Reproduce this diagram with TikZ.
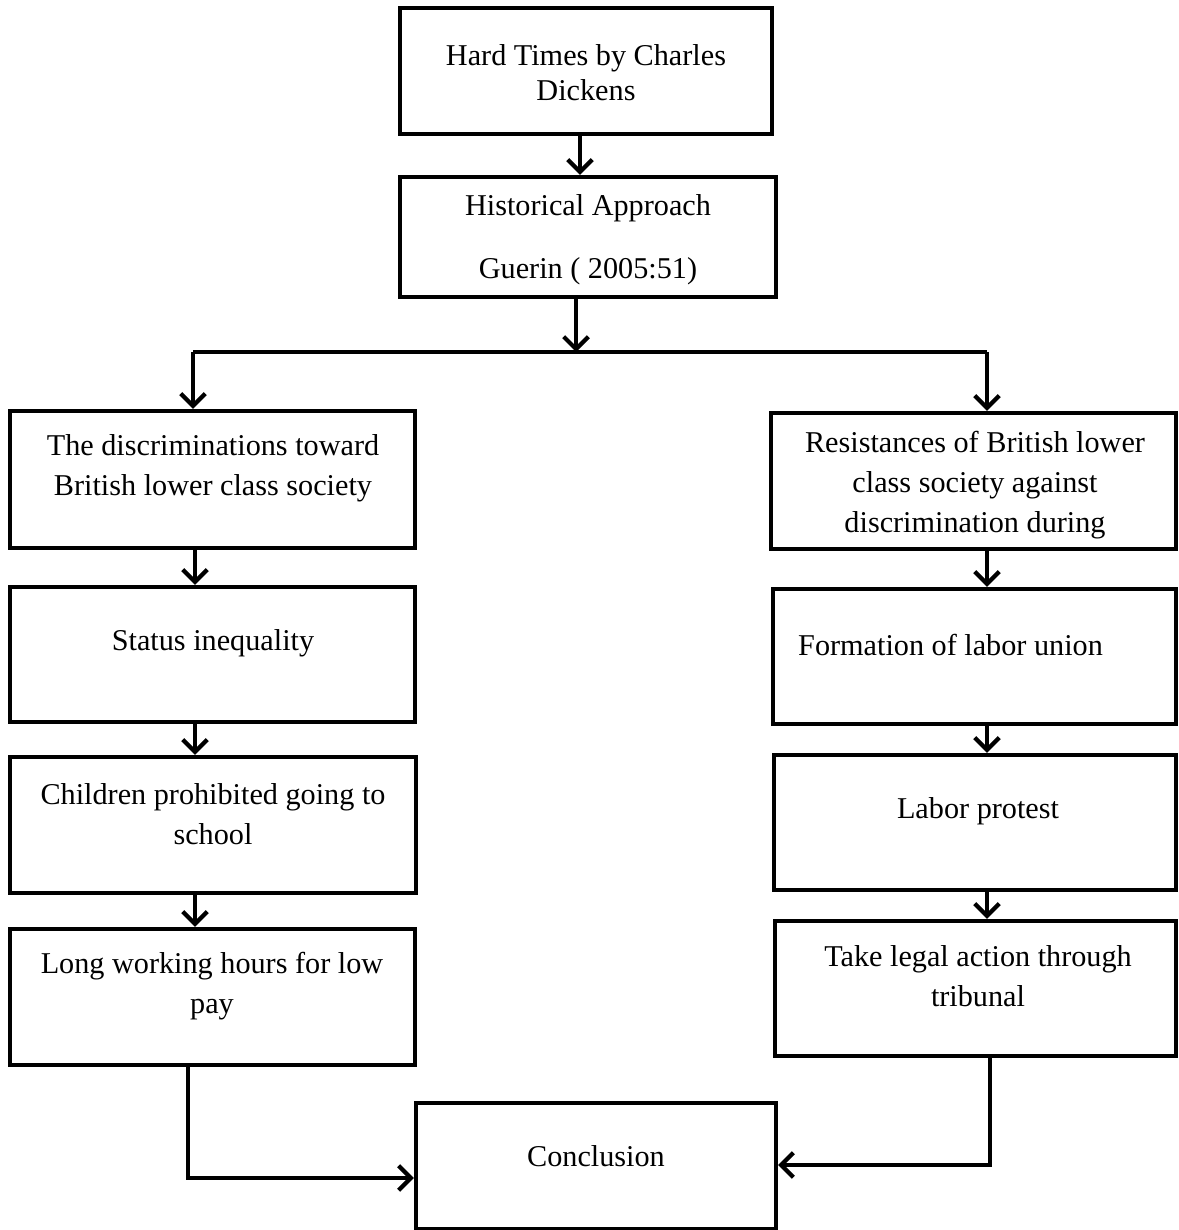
\documentclass[tikz,border=0pt]{standalone}
\usepackage{fontspec}
\setmainfont{Liberation Serif}
\usetikzlibrary{arrows.meta}
\tikzset{
  box/.style={draw, line width=2.4pt, rectangle, inner sep=0pt},
  txt/.style={align=center, font=\fontsize{17.2}{22.7}\selectfont},
  arr/.style={line width=2.4pt, -{Straight Barb[length=7pt,width=14pt]}},
  link/.style={line width=2.4pt},
}

\begin{document}
\begin{tikzpicture}[x=0.02cm, y=-0.02cm]
			%%%%% START %%%%%
			\useasboundingbox (0,0) rectangle (1179,1230);
			
			% top boxes
			\node[box, minimum width=7.44cm, minimum height=2.52cm] (hard) at (586,71) {};
			\node[txt, font=\fontsize{17.2}{20}\selectfont] (hardtxt) at (586,73) {Hard Times by Charles\\Dickens};
			
			\node[box, minimum width=7.52cm, minimum height=2.4cm] (hist) at (588,237) {};
			\node[txt] (histtxt) at (588,240) {Historical Approach\\[13pt]Guerin ( 2005:51)};
			
			% left column
			\node[box, minimum width=8.1cm, minimum height=2.74cm] (disc) at (212.5,479.5) {};
			\node[txt] (disctxt) at (213,468) {The discriminations toward\\British lower class society};
			
			\node[box, minimum width=8.1cm, minimum height=2.7cm] (stat) at (212.5,654.5) {};
			\node[txt] (stattxt) at (213,643) {Status inequality};
			
			\node[box, minimum width=8.12cm, minimum height=2.72cm] (chil) at (213,825) {};
			\node[txt] (chiltxt) at (213,814) {Children prohibited going to\\school};
			
			\node[box, minimum width=8.1cm, minimum height=2.72cm] (long) at (212.5,997) {};
			\node[txt] (longtxt) at (212,986) {Long working hours for low\\pay};
			
			% right column
			\node[box, minimum width=8.1cm, minimum height=2.72cm] (resi) at (973.5,481) {};
			\node[txt] (resitxt) at (975,485) {Resistances of British lower\\class society against\\discrimination during};
			
			\node[box, minimum width=8.06cm, minimum height=2.7cm] (form) at (974.5,656.5) {};
			\node[txt, anchor=west] (formtxt) at (792,645) {Formation of labor union};
			
			\node[box, minimum width=8.04cm, minimum height=2.7cm] (prot) at (975,822.5) {};
			\node[txt] (prottxt) at (978,811) {Labor protest};
			
			\node[box, minimum width=8.02cm, minimum height=2.7cm] (legal) at (975.5,988.5) {};
			\node[txt] (legaltxt) at (978,976) {Take legal action through\\tribunal};
			
			% bottom
			\node[box, minimum width=7.2cm, minimum height=2.52cm] (conc) at (596,1166) {};
			\node[txt] (conctxt) at (596,1156) {Conclusion};
			
			% connectors
			\coordinate (split) at (576,352);
			\coordinate (splitL) at (193,352);
			\coordinate (splitR) at (987,352);
			\coordinate (lcol) at (195,0);
			\coordinate (rcol) at (987,0);
			\coordinate (lconn) at (188,1178);
			\coordinate (rconn) at (990,1165);
			
			\draw[arr] (hard.south -| 580,0) -- (580,0 |- hist.north);
			\draw[arr] (split |- hist.south) -- (split);
			\draw[link] (splitL) -- (splitR);
			\draw[arr] (splitL) -- (splitL |- disc.north);
			\draw[arr] (splitR) -- (splitR |- resi.north);
			
			\draw[arr] (lcol |- disc.south) -- (lcol |- stat.north);
			\draw[arr] (lcol |- stat.south) -- (lcol |- chil.north);
			\draw[arr] (lcol |- chil.south) -- (lcol |- long.north);
			
			\draw[arr] (rcol |- resi.south) -- (rcol |- form.north);
			\draw[arr] (rcol |- form.south) -- (rcol |- prot.north);
			\draw[arr] (rcol |- prot.south) -- (rcol |- legal.north);
			
			\draw[arr] (lconn |- long.south) -- (lconn) -- (lconn -| conc.west);
			\draw[arr] (rconn |- legal.south) -- (rconn) -- (rconn -| conc.east);
			
			%%%%% END %%%%%
\end{tikzpicture}
\end{document}
